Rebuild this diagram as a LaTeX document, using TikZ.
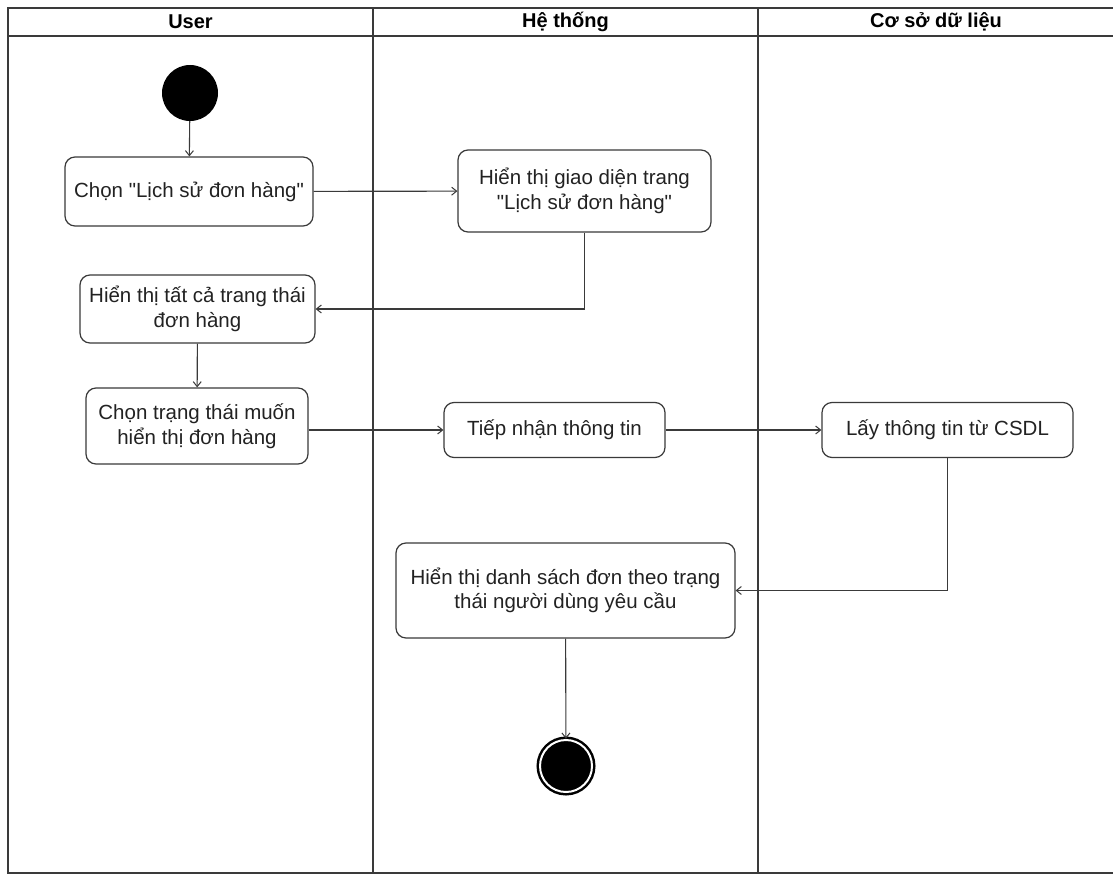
\documentclass[tikz,border=0pt]{standalone}
\usepackage{fontspec}
\setmainfont{Liberation Sans}[Ligatures=TeXOff]
\usetikzlibrary{arrows.meta}
\definecolor{lineclr}{HTML}{3A3A3A}
\definecolor{txtclr}{HTML}{222222}
\tikzset{
  x=1pt, y=-1pt,
  lane/.style={draw=lineclr, line width=1.3pt},
  act/.style={draw=lineclr, line width=1.2pt, rounded corners=10pt, fill=white,
    align=center, inner sep=4pt, text=txtclr, font=\fontsize{20.5}{24.5}\selectfont},
  hdr/.style={font=\fontsize{20}{24}\selectfont\bfseries},
  flow/.style={draw=lineclr, line width=1.1pt,
    -{Straight Barb[length=5pt,width=8pt,line width=1pt]}},
  startnode/.style={circle, fill=black, minimum size=56pt, inner sep=0pt},
  endnode/.style={circle, fill=black, minimum size=52pt, inner sep=0pt,
    double=white, double distance=2pt, draw=black, line width=2.5pt},
}
\begin{document}
\begin{tikzpicture}
\useasboundingbox (0,0) rectangle (1113,875);
\clip (0,0) rectangle (1113,875);
\fill[white] (0,0) rectangle (1113,875);

% swimlane frame and header
\draw[lane] (8,8) rectangle (1116,873);
\draw[lane] (8,36) -- (1116,36);
\draw[lane] (373,8) -- (373,873);
\draw[lane] (758,8) -- (758,873);
\node[hdr] (hUser) at (190.5,22) {User};
\node[hdr] (hSys)  at (565.5,22) {Hệ thống};
\node[hdr] (hDb)   at (936,22)   {Cơ sở dữ liệu};

% initial and final states
\node[startnode] (start) at (190,93) {};
\node[endnode]   (stop)  at (566,766) {};

% activities
\node[act, minimum width=248pt, minimum height=69pt] (chon) at (189,191.5)
  {Chọn "Lịch sử đơn hàng"};
\node[act, minimum width=253pt, minimum height=82pt] (giaodien) at (584.5,191)
  {Hiển thị giao diện trang\\"Lịch sử đơn hàng"};
\node[act, minimum width=235pt, minimum height=68pt] (tatca) at (197.5,309)
  {Hiển thị tất cả trang thái\\đơn hàng};
\node[act, minimum width=222pt, minimum height=76pt] (chontt) at (197,426)
  {Chọn trạng thái muốn\\hiển thị đơn hàng};
\node[act, minimum width=221pt, minimum height=55pt] (tiepnhan) at (554.5,430)
  {Tiếp nhận thông tin};
\node[act, minimum width=251pt, minimum height=55pt] (layinfo) at (947.5,430)
  {Lấy thông tin từ CSDL};
\node[act, minimum width=339pt, minimum height=95pt] (danhsach) at (565.5,590.5)
  {Hiển thị danh sách đơn theo trạng\\thái người dùng yêu cầu};

% control flow
\draw[flow] (start) -- (chon);
\draw[flow] (chon) -- (giaodien);
\draw[flow] (giaodien.south) |- (tatca.east);
\draw[flow] (tatca) -- (chontt);
\draw[flow] (chontt.east |- tiepnhan.west) -- (tiepnhan.west);
\draw[flow] (tiepnhan) -- (layinfo);
\draw[flow] (layinfo.south) |- (danhsach.east);
\draw[flow] (danhsach) -- (stop);
\end{tikzpicture}
\end{document}
